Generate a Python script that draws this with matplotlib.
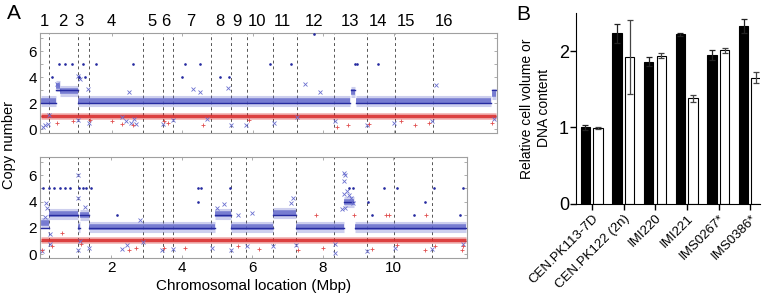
import matplotlib
matplotlib.use('Agg')
import matplotlib.pyplot as plt
import numpy as np

plt.rcParams['font.family'] = ['Liberation Sans', 'DejaVu Sans']

# %% Daten

# chromosome ends (Mbp), S. cerevisiae
chrom_ends = [0.23, 1.04, 1.36, 2.89, 3.47, 3.74, 4.83, 5.39, 5.83, 6.58,
              7.25, 8.32, 9.25, 10.03, 11.12, 12.07]
chrom_names = [str(i) for i in range(1, 17)]
chrom_label_x = [0.10, 0.61, 1.09, 1.98, 3.14, 3.54, 4.25, 5.08, 5.56, 6.13,
                 6.84, 7.75, 8.77, 9.57, 10.34, 11.42]

# top panel: copy number segments (start, end, cloud level, fitted level)
top_seg_start = [0.00, 0.43, 0.55, 1.04, 8.78, 8.93, 12.78]
top_seg_end = [0.43, 0.55, 1.04, 8.76, 8.90, 12.76, 12.90]
top_seg_level = [2.15, 3.30, 2.95, 2.15, 2.85, 2.15, 2.70]
top_seg_fit = [2, 3, 3, 2, 3, 2, 3]
top_red_level = 1.05

# bottom panel segments
bot_seg_start = [0.00, 0.23, 1.04, 1.10, 1.36, 4.93, 5.39, 6.58, 7.25, 8.60, 8.92]
bot_seg_end = [0.23, 1.04, 1.10, 1.36, 4.93, 5.39, 6.58, 7.25, 8.60, 8.90, 12.07]
bot_seg_level = [2.35, 3.05, 2.10, 3.00, 2.05, 3.05, 2.05, 3.10, 2.05, 4.00, 2.05]
bot_seg_fit = [2, 3, 2, 3, 2, 3, 2, 3, 2, 4, 2]
bot_red_level = 1.05

# outliers top panel
top_dot_x = [0.50, 0.67, 0.87, 1.18, 1.57, 2.60, 4.08, 4.50, 6.50, 7.10, 8.90,
             8.97, 9.57, 0.30, 1.09, 1.24, 3.99, 5.08, 5.33, 7.75]
top_dot_y = [5, 5, 5, 5, 5, 5, 5, 5, 5, 5, 5,
             5, 5, 4, 4, 4, 4, 4, 4, 7.3]
top_bx_x = [0.45, 1.05, 1.10, 1.33, 2.50, 4.30, 4.50, 5.30, 7.50, 0.05, 0.10,
            0.20, 0.22, 1.05, 1.35, 2.30, 2.40, 2.55, 2.65, 2.70, 3.45, 3.75,
            4.70, 5.40, 5.82, 6.60, 7.25, 8.35, 9.25, 10.00, 11.10, 12.85,
            7.90, 11.2]
top_bx_y = [3.50, 4.10, 3.90, 3.10, 2.90, 3.10, 2.90, 3.20, 3.50, 0.20, 0.30,
            0.40, 1.10, 0.70, 0.50, 0.90, 0.60, 0.50, 0.80, 0.40, 0.40, 0.70,
            0.80, 0.30, 0.30, 0.50, 0.90, 0.60, 0.30, 0.50, 0.60, 0.80,
            2.90, 3.40]
top_red_x = [0.45, 0.90, 2.00, 2.30, 2.60, 3.60, 4.60, 5.90, 8.40, 9.30, 10.20,
             10.60, 11.00, 12.80, 8.70, 1.40, 3.50]
top_red_y = [0.50, 0.60, 0.60, 0.40, 0.30, 0.50, 0.30, 0.70, 0.20, 0.40, 0.60,
             0.30, 0.50, 0.50, 0.30, 0.70, 0.60]

# outliers bottom panel
bot_dot_x = [0.05, 0.24, 0.38, 0.53, 0.67, 0.81, 1.09, 1.19, 1.28, 1.43, 4.45,
             4.55, 5.36, 8.75, 8.85, 9.75, 10.10, 11.15, 12.00, 4.45, 9.30,
             10.90, 2.15, 9.40, 10.60, 11.90]
bot_dot_y = [5, 5, 5, 5, 5, 5, 5, 5, 5, 5, 5,
             5, 5, 5, 5, 5, 5, 5, 5, 4, 4,
             4, 3, 3, 3, 3]
bot_bx_x = [8.62, 8.64, 8.62, 8.70, 8.75, 8.80, 8.65, 8.55, 8.85, 8.60, 0.10,
            0.15, 0.18, 1.05, 1.05, 1.25, 5.20, 5.00, 7.10, 7.15, 2.80, 6.00,
            5.60, 0.02, 0.25, 0.25, 1.05, 1.10, 1.35, 2.30, 2.45, 2.90, 3.45,
            3.75, 4.85, 5.40, 5.85, 6.60, 7.25, 8.35, 8.35, 9.25, 10.05, 11.10,
            12.00]
bot_bx_y = [6.20, 6.00, 5.60, 4.80, 4.50, 4.30, 3.50, 3.40, 3.90, 4.60, 2.80,
            3.90, 3.50, 6.00, 4.30, 3.60, 3.80, 3.50, 3.90, 4.30, 2.60, 3.10,
            3.00, 0.20, 0.80, 1.50, 0.30, 1.00, 0.50, 0.40, 0.70, 0.90, 0.30,
            0.40, 0.50, 0.30, 0.60, 0.60, 0.70, 0.80, 0.10, 0.20, 0.50, 0.40,
            0.80]
bot_red_x = [0.03, 0.30, 0.60, 1.15, 2.50, 2.70, 3.50, 4.10, 5.60, 6.20, 7.30,
             8.00, 9.40, 10.10, 10.90, 11.20, 11.95, 12.00, 7.80, 8.90, 9.80,
             9.90, 10.95]
bot_red_y = [0.30, 0.60, 1.60, 0.80, 0.30, 0.50, 0.50, 0.50, 0.60, 0.40, 0.30,
             0.50, 0.40, 0.70, 0.30, 0.60, 0.30, 0.60, 3.00, 3.00, 3.00,
             3.00, 3.00]

# panel B
strains = ['CEN.PK113-7D', 'CEN.PK122 (2n)', 'IMI220', 'IMI221', 'IMS0267*', 'IMS0386*']
cell_volume = [1.00, 2.23, 1.86, 2.22, 1.95, 2.33]
cell_volume_err = [0.03, 0.13, 0.06, 0.02, 0.07, 0.09]
dna_content = [0.99, 1.92, 1.94, 1.38, 2.01, 1.65]
dna_content_err = [0.01, 0.48, 0.03, 0.05, 0.03, 0.07]

# %% Plot

blue_band = '#5a60c8'
blue_dark = '#262ba0'
red_band = '#d82a2a'
frame_col = '#a0a0a0'


def copy_panel(ax, seg_s, seg_e, seg_l, seg_f, red_lvl, xmax, dx, dy, bx, by, rx, ry):
    for b in chrom_ends[:-1]:
        ax.axvline(b, color='#555555', lw=0.7, ls=(0, (3, 3)), zorder=1)
    for s, e, l, f in zip(seg_s, seg_e, seg_l, seg_f):
        # soft outer cloud + denser core
        ax.plot([s, e], [l, l], color=blue_band, lw=8, alpha=0.3,
                solid_capstyle='butt', zorder=2)
        ax.plot([s, e], [l, l], color=blue_band, lw=4, alpha=0.75,
                solid_capstyle='butt', zorder=2)
        ax.plot([s, e], [f, f], color=blue_dark, lw=1.0, zorder=3)
    ax.plot([seg_s[0], seg_e[-1]], [red_lvl, red_lvl], color=red_band, lw=5,
            alpha=0.3, solid_capstyle='butt', zorder=3)
    ax.plot([seg_s[0], seg_e[-1]], [red_lvl, red_lvl], color=red_band, lw=2.5,
            alpha=0.85, solid_capstyle='butt', zorder=3)
    ax.plot(bx, by, 'x', color='#6a6fd0', ms=3, mew=0.6, zorder=4)
    ax.plot(dx, dy, '.', color=blue_dark, ms=1.8, zorder=4)
    ax.plot(rx, ry, '+', color='#e05050', ms=3, mew=0.6, zorder=4)
    ax.set_xlim(-0.03, xmax)
    ax.set_ylim(-0.3, 7.4)
    ax.set_yticks(range(0, 8))
    ax.set_yticklabels(['0', '', '2', '', '4', '', '6', ''])
    ax.set_xticks([2, 4, 6, 8, 10])
    ax.tick_params(direction='in', length=2, width=0.6, color=frame_col,
                   labelsize=11, pad=2, right=True, top=True)
    for sp in ax.spines.values():
        sp.set_color(frame_col)
        sp.set_linewidth(0.8)


fig = plt.figure(figsize=(7.68, 2.99), dpi=100)

ax1 = fig.add_axes([0.052, 0.555, 0.595, 0.334])
copy_panel(ax1, top_seg_start, top_seg_end, top_seg_level, top_seg_fit,
           top_red_level, 12.93, top_dot_x, top_dot_y, top_bx_x, top_bx_y,
           top_red_x, top_red_y)
ax1.set_xticklabels([])
for xl, name in zip(chrom_label_x, chrom_names):
    ax1.text(xl, 1.04, name, transform=ax1.get_xaxis_transform(),
             ha='center', va='bottom', fontsize=12)

ax2 = fig.add_axes([0.052, 0.137, 0.556, 0.338])
copy_panel(ax2, bot_seg_start, bot_seg_end, bot_seg_level, bot_seg_fit,
           bot_red_level, 12.1, bot_dot_x, bot_dot_y, bot_bx_x, bot_bx_y,
           bot_red_x, bot_red_y)
ax2.set_xlabel('Chromosomal location (Mbp)', fontsize=11, labelpad=3)

fig.text(0.012, 0.515, 'Copy number', rotation=90, ha='center', va='center',
         fontsize=10.5)
fig.text(0.009, 0.955, 'A', fontsize=15, va='center')
fig.text(0.672, 0.95, 'B', fontsize=15, va='center')

# panel B
ax3 = fig.add_axes([0.75, 0.318, 0.24, 0.639])
pos = np.arange(len(strains))
ax3.bar(pos - 0.21, cell_volume, 0.30, color='black', edgecolor='black', lw=0.8)
ax3.bar(pos + 0.19, dna_content, 0.30, color='white', edgecolor='black', lw=0.8)
ax3.errorbar(pos - 0.21, cell_volume, yerr=cell_volume_err, fmt='none',
             ecolor='#222222', elinewidth=0.9, capsize=2.5, capthick=0.9)
ax3.errorbar(pos + 0.19, dna_content, yerr=dna_content_err, fmt='none',
             ecolor='#444444', elinewidth=0.9, capsize=2.5, capthick=0.9)
ax3.set_xlim(-0.506, 5.32)
ax3.set_ylim(0, 2.5)
ax3.set_yticks([0, 1, 2])
ax3.set_xticks(pos)
ax3.set_xticklabels(strains, rotation=45, ha='right', rotation_mode='anchor',
                    fontsize=9.5)
ax3.tick_params(axis='y', labelsize=13, length=4, width=1, pad=1)
ax3.tick_params(axis='x', length=4, width=1, pad=2)
ax3.spines['top'].set_visible(False)
ax3.spines['right'].set_visible(False)
ax3.set_ylabel('Relative cell volume or\nDNA content', fontsize=10, labelpad=6)

fig.savefig('out.png', dpi=100)
